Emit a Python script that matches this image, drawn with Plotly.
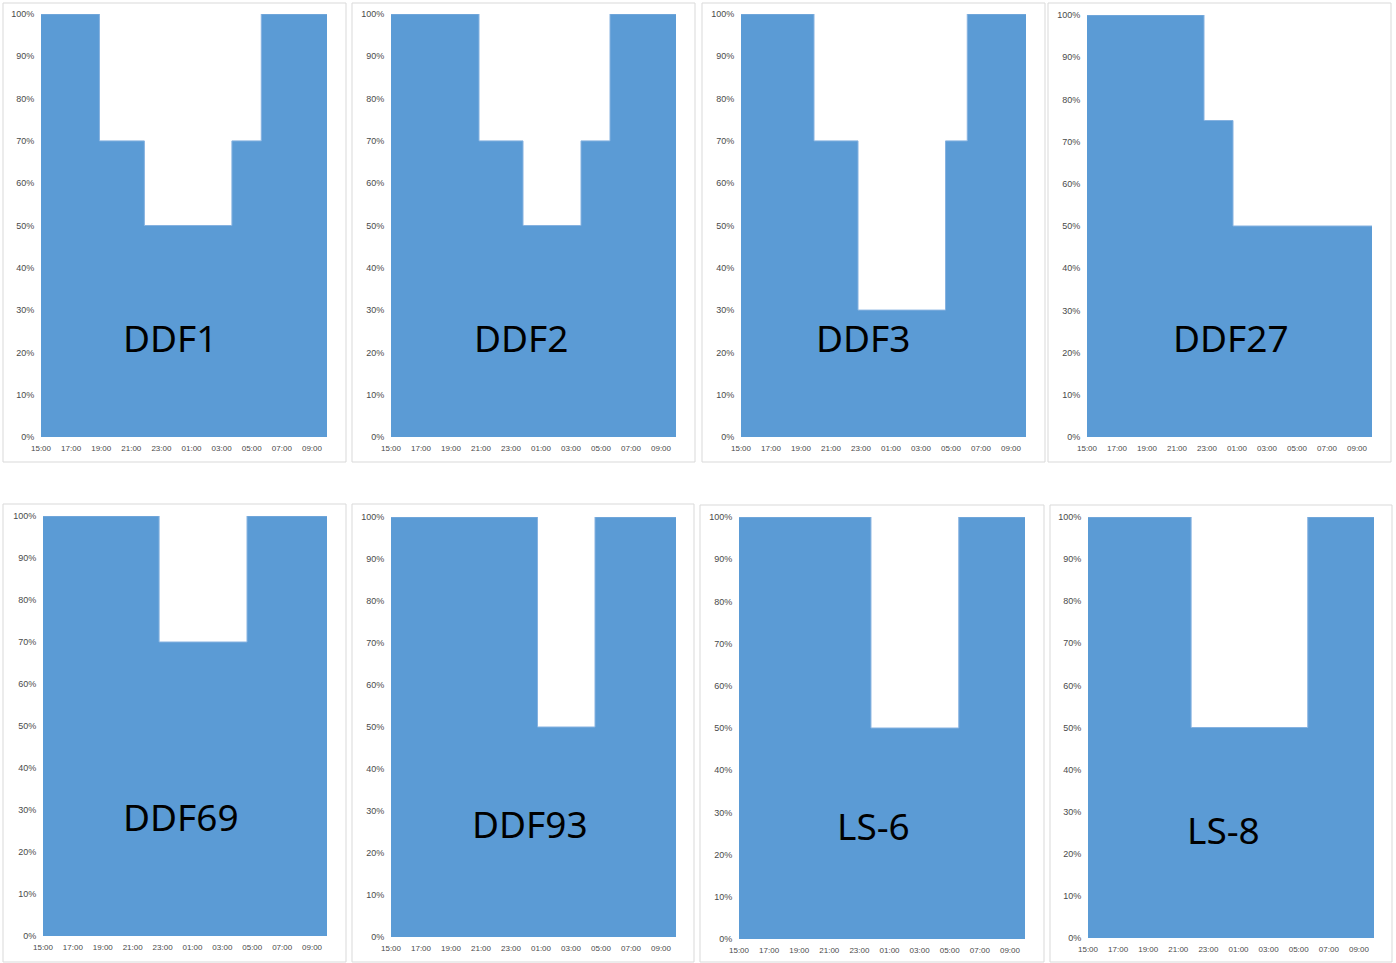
import plotly.graph_objects as go

W, H = 1396, 963

NAMES = ["DDF1", "DDF2", "DDF3", "DDF27", "DDF69", "DDF93", "LS-6", "LS-8"]

START = "15:00"
END = "10:00"

# times (HH:MM) where the limit changes, and the limit (%) in force from each point on
DDF1_TIMES = ["18:53", "21:52", "03:41", "05:38"]
DDF1_LEVELS = [100, 70, 50, 70, 100]
DDF2_TIMES = ["20:52", "23:48", "03:40", "05:36"]
DDF2_LEVELS = [100, 70, 50, 70, 100]
DDF3_TIMES = ["19:52", "22:48", "04:38", "06:05"]
DDF3_LEVELS = [100, 70, 30, 70, 100]
DDF27_TIMES = ["22:48", "00:44"]
DDF27_LEVELS = [100, 75, 50]
DDF69_TIMES = ["22:46", "04:39"]
DDF69_LEVELS = [100, 70, 100]
DDF93_TIMES = ["00:46", "04:36"]
DDF93_LEVELS = [100, 50, 100]
LS6_TIMES = ["23:46", "05:36"]
LS6_LEVELS = [100, 50, 100]
LS8_TIMES = ["21:51", "05:36"]
LS8_LEVELS = [100, 50, 100]

SERIES = [
    (DDF1_TIMES, DDF1_LEVELS),
    (DDF2_TIMES, DDF2_LEVELS),
    (DDF3_TIMES, DDF3_LEVELS),
    (DDF27_TIMES, DDF27_LEVELS),
    (DDF69_TIMES, DDF69_LEVELS),
    (DDF93_TIMES, DDF93_LEVELS),
    (LS6_TIMES, LS6_LEVELS),
    (LS8_TIMES, LS8_LEVELS),
]

# layout in pixels: chart frame, plot area, label centre
FRAMES = [
    (3, 3, 346, 462), (352, 3, 695, 462), (702, 3, 1045, 462), (1048, 3, 1391, 462),
    (3, 504, 346, 962), (352, 504, 694, 962), (700, 505, 1044, 962), (1050, 505, 1392, 962),
]
PLOTS = [
    (41, 14, 327, 437), (391, 14, 676, 437), (741, 14, 1026, 437), (1087, 15, 1372, 437),
    (43, 516, 327, 936), (391, 517, 676, 937), (739, 517, 1025, 939), (1088, 517, 1374, 938),
]
LABEL_POS = [
    (170, 338), (521, 338), (863, 338), (1231, 338),
    (181, 816), (530, 823), (873, 825), (1223, 829),
]

BLUE = "#5b9bd5"
FONT = "Liberation Sans Narrow, Liberation Sans, sans-serif"
X_TICK_FONT = dict(family=FONT, size=8, color="#4a4a4a")
Y_TICK_FONT = dict(family=FONT, size=9, color="#4a4a4a")


def stamp(t):
    """Put an HH:MM time on the 15:00 -> 10:00 overnight window."""
    day = "2020-01-01" if t >= "15:00" else "2020-01-02"
    return f"{day} {t}"


def px(x):
    return x / W


def py(y):
    return 1 - y / H


fig = go.Figure()
shapes = []
annotations = []

for i, (name, (times, levels)) in enumerate(zip(NAMES, SERIES)):
    n = "" if i == 0 else str(i + 1)
    xs = [stamp(START)] + [stamp(t) for t in times] + [stamp(END)]
    ys = list(levels) + [levels[-1]]
    fig.add_trace(
        go.Scatter(
            x=xs,
            y=ys,
            mode="lines",
            line=dict(shape="hv", color="#86b2e0", width=1),
            fill="tozeroy",
            fillcolor=BLUE,
            xaxis=f"x{n}",
            yaxis=f"y{n}",
            showlegend=False,
            hoverinfo="skip",
        )
    )
    x0, y0, x1, y1 = PLOTS[i]
    fig.layout[f"xaxis{n}"] = dict(
        domain=[px(x0), px(x1)],
        anchor=f"y{n}",
        type="date",
        range=[stamp(START), stamp(END)],
        tick0=stamp(START),
        dtick=2 * 3600 * 1000,
        tickformat="%H:%M",
        ticks="outside",
        ticklen=3,
        tickcolor="rgba(0,0,0,0)",
        showgrid=False,
        zeroline=False,
        showline=False,
        automargin=False,
        tickfont=X_TICK_FONT,
    )
    fig.layout[f"yaxis{n}"] = dict(
        domain=[py(y1), py(y0)],
        anchor=f"x{n}",
        range=[0, 100],
        dtick=10,
        ticksuffix="%",
        ticks="outside",
        ticklen=4,
        tickcolor="rgba(0,0,0,0)",
        showgrid=False,
        zeroline=False,
        showline=False,
        automargin=False,
        tickfont=Y_TICK_FONT,
    )

    fx0, fy0, fx1, fy1 = FRAMES[i]
    shapes.append(
        dict(
            type="rect", xref="paper", yref="paper",
            x0=px(fx0), x1=px(fx1), y0=py(fy1), y1=py(fy0),
            line=dict(color="#d9d9d9", width=1),
            layer="below",
        )
    )
    lx, ly = LABEL_POS[i]
    annotations.append(
        dict(
            text=name, xref="paper", yref="paper",
            x=px(lx), y=py(ly), xanchor="center", yanchor="middle",
            showarrow=False,
            font=dict(family="Noto Sans, sans-serif", size=37, color="#000000"),
        )
    )

fig.update_layout(
    width=W,
    height=H,
    autosize=False,
    margin=dict(l=0, r=0, t=0, b=0, autoexpand=False),
    paper_bgcolor="white",
    plot_bgcolor="white",
    shapes=shapes,
    annotations=annotations,
)

# page body has a default 8px margin; drop it so the figure fills the window
fig.write_html(
    "out.html",
    config={"displayModeBar": False},
    post_script="document.body.style.margin = '0';",
)
